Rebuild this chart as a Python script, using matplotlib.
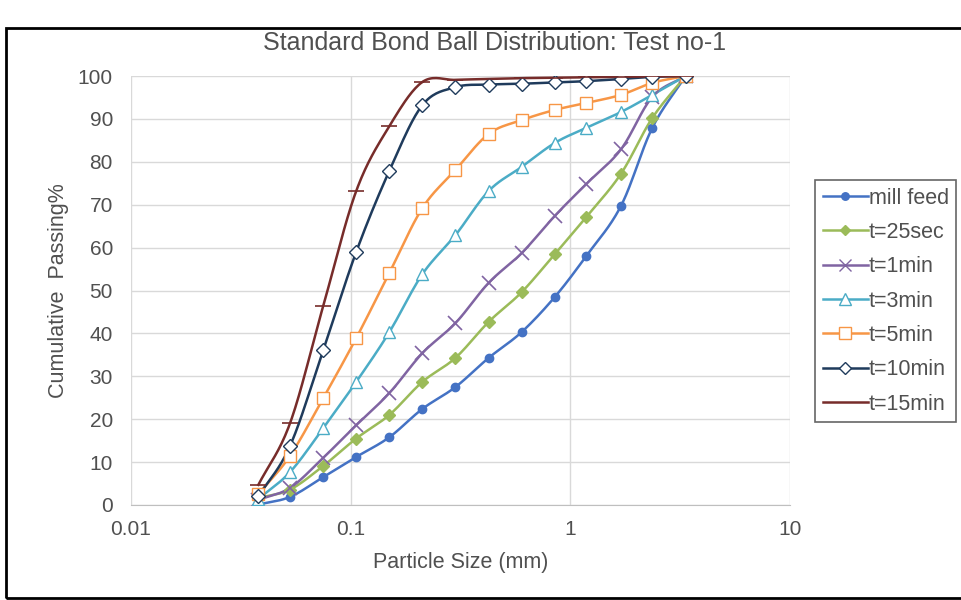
import numpy as np
import matplotlib.pyplot as plt
from matplotlib.patches import Rectangle

plt.rcParams['font.family'] = ['Liberation Sans', 'DejaVu Sans']

# sieve sizes (mm)
sizes = [0.038, 0.053, 0.075, 0.106, 0.150, 0.212, 0.300, 0.425,
         0.600, 0.850, 1.18, 1.70, 2.36, 3.35]

# cumulative passing %
mill_feed = [0.1, 1.9, 6.5, 11.2, 15.8, 22.4, 27.5, 34.3, 40.3, 48.5, 58.0, 69.7, 87.9, 100]
t25sec = [1.6, 3.6, 9.1, 15.5, 21.0, 28.7, 34.3, 42.7, 49.6, 58.5, 67.1, 77.2, 90.2, 100]
t1min = [1.2, 4.0, 11.0, 18.6, 26.1, 35.4, 42.4, 51.8, 58.7, 67.4, 74.8, 82.9, 95.1, 100]
t3min = [1.4, 7.7, 17.9, 28.7, 40.3, 53.8, 62.9, 73.2, 78.8, 84.4, 87.9, 91.6, 95.6, 100]
t5min = [2.5, 11.5, 24.9, 38.9, 54.1, 69.2, 78.1, 86.5, 89.7, 92.1, 93.7, 95.6, 98.4, 100]
t10min = [2.0, 13.8, 36.1, 59.0, 77.9, 93.2, 97.4, 98.0, 98.2, 98.5, 98.8, 99.3, 99.8, 100]
t15min = [4.7, 19.1, 46.4, 73.2, 88.3, 98.6, 99.1, 99.3, 99.5, 99.6, 99.7, 99.8, 99.9, 100]

labels = ['mill feed', 't=25sec', 't=1min', 't=3min', 't=5min', 't=10min', 't=15min']
series = [mill_feed, t25sec, t1min, t3min, t5min, t10min, t15min]
colors = ['#4472C4', '#9BBB59', '#8064A2', '#4BACC6', '#F79646', '#1F3B5C', '#772C2A']
markers = ['o', 'D', 'x', '^', 's', 'D', '_']
filled = [True, True, True, False, False, False, True]
msizes = [6, 6, 10, 9, 9, 7, 12]


def smooth(xs, ys, n=20):
    # catmull-rom curve through the points, in log-x space (like Excel smoothed lines)
    lx = np.log10(xs)
    y = np.asarray(ys, float)
    px = np.concatenate([[2 * lx[0] - lx[1]], lx, [2 * lx[-1] - lx[-2]]])
    py = np.concatenate([[2 * y[0] - y[1]], y, [2 * y[-1] - y[-2]]])
    outx, outy = [], []
    t = np.linspace(0, 1, n)
    for i in range(1, len(px) - 2):
        for p, out in ((px, outx), (py, outy)):
            p0, p1, p2, p3 = p[i - 1], p[i], p[i + 1], p[i + 2]
            out.extend(0.5 * ((2 * p1) + (-p0 + p2) * t
                              + (2 * p0 - 5 * p1 + 4 * p2 - p3) * t ** 2
                              + (-p0 + 3 * p1 - 3 * p2 + p3) * t ** 3))
    return 10 ** np.array(outx), np.minimum(np.array(outy), 100)


fig = plt.figure(figsize=(9.62, 6), dpi=100)
ax = fig.add_axes([131 / 962, 1 - 505 / 600, 659 / 962, 429 / 600])

for ys, lab, c, m, f, ms in zip(series, labels, colors, markers, filled, msizes):
    sx, sy = smooth(sizes, ys)
    ax.plot(sx, sy, color=c, lw=1.8, zorder=2)
    ax.plot(sizes, ys, ls='none', marker=m, ms=ms, color=c,
            mfc=c if f else 'white', mec=c, mew=1.2 if m in ('x', '_') else 1.0, zorder=3)
    ax.plot([], [], color=c, lw=1.8, marker=(m if lab != 't=15min' else None), ms=ms * 0.9,
            mfc=c if f else 'white', mec=c, label=lab)

ax.set_xscale('log')
ax.set_xlim(0.01, 10)
ax.set_ylim(0, 100)
ax.set_xticks([0.01, 0.1, 1, 10])
ax.set_xticklabels(['0.01', '0.1', '1', '10'])
ax.set_yticks(np.arange(0, 101, 10))
ax.xaxis.set_minor_locator(plt.NullLocator())
ax.grid(True, color='#D9D9D9', lw=1)
ax.set_axisbelow(True)
for s in ['top', 'right', 'left']:
    ax.spines[s].set_visible(False)
ax.spines['bottom'].set_color('#BFBFBF')
ax.tick_params(length=0, labelsize=15, colors='#505050')
ax.tick_params(axis='y', pad=13)
ax.tick_params(axis='x', pad=11)

ax.set_xlabel('Particle Size (mm)', fontsize=15.5, color='#505050', labelpad=9)
ax.set_ylabel('Cumulative  Passing%', fontsize=15.5, color='#505050', labelpad=6)
fig.text(495 / 962, 1 - 43 / 600, 'Standard Bond Ball Distribution: Test no-1',
         ha='center', va='center', fontsize=18, color='#505050')

leg = fig.legend(loc='upper left', bbox_to_anchor=(815 / 962, 1 - 180 / 600),
                 fontsize=15.5, frameon=True, fancybox=False, handlelength=2.1,
                 handletextpad=0.05, labelspacing=0.62, borderpad=0.35, borderaxespad=0)
leg.get_frame().set_edgecolor('#404040')
leg.get_frame().set_linewidth(1.2)
for t in leg.get_texts():
    t.set_color('#505050')

fig.patches.append(Rectangle((6 / 962, 2 / 600), 1.0, 1 - 28 / 600 - 2 / 600,
                             transform=fig.transFigure, fill=False,
                             edgecolor='black', lw=2))

fig.savefig('out.png', dpi=100)
